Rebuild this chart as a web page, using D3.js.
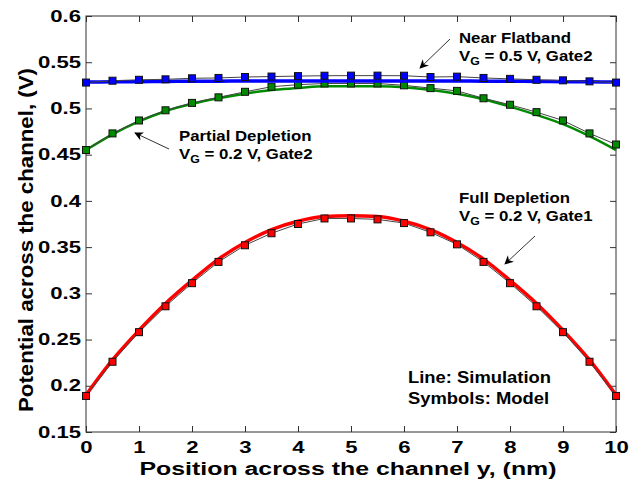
<!DOCTYPE html>
<html>
<head>
<meta charset="utf-8">
<script src="https://cdn.jsdelivr.net/npm/d3@7"></script>
<style>
  body { margin: 0; background: #fff; }
  svg { display: block; font-family: "Liberation Sans", Arial, sans-serif; font-weight: bold; }
</style>
</head>
<body>
<div id="chart"></div>
<script>
// positions across the channel (nm)
var positions = [0, 0.5, 1, 1.5, 2, 2.5, 3, 3.5, 4, 4.5, 5, 5.5, 6, 6.5, 7, 7.5, 8, 8.5, 9, 9.5, 10];

// Full depletion, VG = 0.2 V, Gate1
var fullSim   = [0.190, 0.228, 0.260, 0.289, 0.314, 0.337, 0.355, 0.369, 0.378, 0.383, 0.384, 0.383, 0.378, 0.369, 0.355, 0.337, 0.314, 0.289, 0.260, 0.228, 0.190];
var fullModel = [0.189, 0.226, 0.258, 0.286, 0.311, 0.334, 0.352, 0.365, 0.375, 0.381, 0.381, 0.380, 0.376, 0.366, 0.353, 0.334, 0.311, 0.286, 0.258, 0.226, 0.189];

// Partial depletion, VG = 0.2 V, Gate2
var partSim   = [0.455, 0.472, 0.486, 0.497, 0.505, 0.511, 0.516, 0.520, 0.522, 0.524, 0.524, 0.524, 0.523, 0.520, 0.516, 0.510, 0.502, 0.493, 0.483, 0.470, 0.455];
var partModel = [0.455, 0.473, 0.487, 0.498, 0.506, 0.512, 0.518, 0.5235, 0.5257, 0.527, 0.527, 0.527, 0.525, 0.522, 0.519, 0.511, 0.504, 0.496, 0.487, 0.473, 0.461];

// Near flatband, VG = 0.5 V, Gate2
var flatSim   = [0.5286, 0.5288, 0.529, 0.5292, 0.5294, 0.5295, 0.5296, 0.5296, 0.5297, 0.5297, 0.5297, 0.5297, 0.5297, 0.5296, 0.5296, 0.5295, 0.5294, 0.5292, 0.529, 0.5288, 0.5286];
var flatModel = [0.528, 0.530, 0.531, 0.5315, 0.5326, 0.533, 0.534, 0.5345, 0.535, 0.5354, 0.5355, 0.5355, 0.5354, 0.534, 0.5344, 0.533, 0.532, 0.531, 0.5304, 0.5293, 0.528];

var xTicks = [0, 1, 2, 3, 4, 5, 6, 7, 8, 9, 10];
var yTicks = [0.15, 0.2, 0.25, 0.3, 0.35, 0.4, 0.45, 0.5, 0.55, 0.6];

var series = [
  {sim: fullSim, model: fullModel, color: "#ff0000", simWidth: 3.5},
  {sim: partSim, model: partModel, color: "#008a00", simWidth: 2.5},
  {sim: flatSim, model: flatModel, color: "#0000ff", simWidth: 3.5}
];

var width = 638, height = 482;
var margin = {top: 16, right: 22, bottom: 50, left: 86};
var w = width - margin.left - margin.right;
var h = height - margin.top - margin.bottom;
var stretch = 1.38; // the original lettering is wide

var svg = d3.select("#chart").append("svg")
  .attr("width", width)
  .attr("height", height);

svg.append("defs").append("marker")
  .attr("id", "arrow")
  .attr("viewBox", "0 0 10 10")
  .attr("refX", 9).attr("refY", 5)
  .attr("markerWidth", 9).attr("markerHeight", 9)
  .attr("markerUnits", "userSpaceOnUse")
  .attr("orient", "auto")
  .append("path")
  .attr("d", "M0,0 L10,5 L0,10 L3,5 z")
  .attr("fill", "#000");

var g = svg.append("g").attr("transform", "translate(" + margin.left + "," + margin.top + ")");

var x = d3.scaleLinear().domain([0, 10]).range([0, w]);
var y = d3.scaleLinear().domain([0.15, 0.6]).range([h, 0]);

function styleAxis(sel) {
  sel.select(".domain").remove();
  sel.selectAll("line").attr("stroke", "#333");
  sel.selectAll("text").attr("fill", "#000").style("font-size", "16px").style("font-weight", "bold");
}

// axes, ticks pointing in on all four sides
g.append("g").attr("transform", "translate(0," + h + ")")
  .call(d3.axisBottom(x).tickValues(xTicks).tickSizeInner(-6).tickSizeOuter(0).tickFormat(d3.format("d")))
  .call(styleAxis)
  .selectAll("text")
  .attr("y", 0).attr("dy", null)
  .attr("transform", "translate(0,21) scale(" + stretch + ",1)");

g.append("g")
  .call(d3.axisTop(x).tickValues(xTicks).tickSizeInner(-6).tickSizeOuter(0).tickFormat(""))
  .call(styleAxis);

g.append("g")
  .call(d3.axisLeft(y).tickValues(yTicks).tickSizeInner(-6).tickSizeOuter(0).tickFormat(function (d) { return +d.toFixed(2); }))
  .call(styleAxis)
  .selectAll("text")
  .attr("x", 0)
  .attr("transform", "translate(-5,0) scale(" + stretch + ",1)");

g.append("g").attr("transform", "translate(" + w + ",0)")
  .call(d3.axisRight(y).tickValues(yTicks).tickSizeInner(-6).tickSizeOuter(0).tickFormat(""))
  .call(styleAxis);

g.append("rect")
  .attr("width", w).attr("height", h)
  .attr("fill", "none").attr("stroke", "#333").attr("stroke-width", 1);

// curves: simulation as thick coloured line, model as thin line with squares
var line = d3.line()
  .x(function (d) { return x(d[0]); })
  .y(function (d) { return y(d[1]); });

var simLine = d3.line()
  .x(function (d) { return x(d[0]); })
  .y(function (d) { return y(d[1]); })
  .curve(d3.curveMonotoneX);

series.forEach(function (s) {
  var simPts = positions.map(function (p, i) { return [p, s.sim[i]]; });
  var modPts = positions.map(function (p, i) { return [p, s.model[i]]; });
  g.append("path")
    .attr("d", simLine(simPts))
    .attr("fill", "none")
    .attr("stroke", s.color)
    .attr("stroke-width", s.simWidth);
  g.append("path")
    .attr("d", line(modPts))
    .attr("fill", "none")
    .attr("stroke", "#444")
    .attr("stroke-width", 1);
  g.selectAll(null)
    .data(modPts)
    .enter().append("rect")
    .attr("x", function (d) { return x(d[0]) - 3.5; })
    .attr("y", function (d) { return y(d[1]) - 3.5; })
    .attr("width", 7).attr("height", 7)
    .attr("fill", s.color)
    .attr("stroke", "#111")
    .attr("stroke-width", 1);
});

// annotations
var notes = [
  {line1: "Near Flatband", vg: " = 0.5 V, Gate2", tx: 459, ty: 43, from: [450, 39], to: [420, 68]},
  {line1: "Partial Depletion", vg: " = 0.2 V, Gate2", tx: 179, ty: 141, from: [169, 149], to: [135, 133]},
  {line1: "Full Depletion", vg: " = 0.2 V, Gate1", tx: 459, ty: 203, from: [535, 236], to: [505, 264]}
];

notes.forEach(function (n) {
  var a = svg.append("g").attr("transform", "translate(" + n.tx + "," + n.ty + ") scale(1.12,1)");
  a.append("text").style("font-size", "15px").text(n.line1);
  var t2 = a.append("text").attr("y", 18).style("font-size", "15px");
  t2.append("tspan").text("V");
  t2.append("tspan").attr("dy", 4).style("font-size", "11px").text("G");
  t2.append("tspan").attr("dy", -4).text(n.vg);
  svg.append("line")
    .attr("x1", n.from[0]).attr("y1", n.from[1])
    .attr("x2", n.to[0]).attr("y2", n.to[1])
    .attr("stroke", "#333").attr("stroke-width", 1)
    .attr("marker-end", "url(#arrow)");
});

var key = svg.append("g").attr("transform", "translate(408,383) scale(1.15,1)");
key.append("text").style("font-size", "16px").text("Line: Simulation");
key.append("text").attr("y", 21).style("font-size", "16px").text("Symbols: Model");

// axis titles
svg.append("text")
  .attr("x", 348).attr("y", 475)
  .attr("text-anchor", "middle")
  .attr("textLength", 417)
  .attr("lengthAdjust", "spacingAndGlyphs")
  .style("font-size", "18px")
  .text("Position across the channel y, (nm)");

svg.append("text")
  .attr("transform", "translate(33,240) rotate(-90)")
  .attr("text-anchor", "middle")
  .attr("textLength", 344)
  .attr("lengthAdjust", "spacingAndGlyphs")
  .style("font-size", "20px")
  .text("Potential across the channel, (V)");
</script>
</body>
</html>
